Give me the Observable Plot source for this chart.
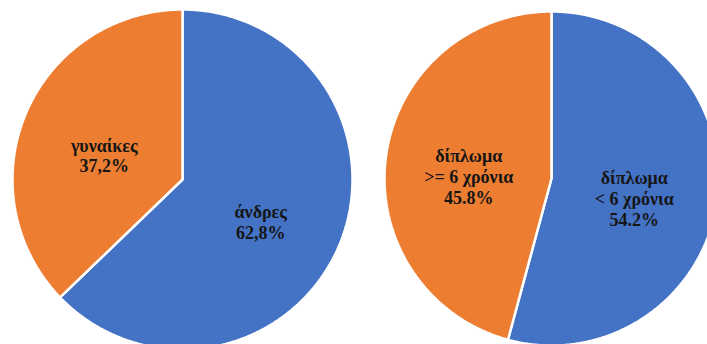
<!DOCTYPE html>
<html>
<head>
<meta charset="utf-8">
<script src="https://cdn.jsdelivr.net/npm/d3@7"></script>
<script src="https://cdn.jsdelivr.net/npm/@observablehq/plot@0.6"></script>
<style>
  html, body { margin: 0; padding: 0; background: #fff; overflow: hidden; }
  #wrap { position: relative; width: 707px; height: 344px; overflow: hidden; }
  #wrap svg { position: absolute; top: 0; max-width: none; overflow: hidden; }
  #wrap svg text { font-family: "Liberation Serif", "Times New Roman", serif; }
</style>
</head>
<body>
<div id="wrap"></div>
<script>
// ---- data ----
const genderCategories = ["άνδρες", "γυναίκες"];
const genderValues = [62.8, 37.2];
const genderPctLabels = ["62,8%", "37,2%"];

const licenseCategories = ["δίπλωμα\n< 6 χρόνια", "δίπλωμα\n>= 6 χρόνια"];
const licenseValues = [54.2, 45.8];
const licensePctLabels = ["54.2%", "45.8%"];

const sliceColors = ["#4472C4", "#ED7D31"];

// ---- helpers ----
function pieSlices(categories, values, pctLabels) {
  const total = d3.sum(values);
  let acc = 0;
  const polys = [];
  const labels = [];
  categories.forEach((cat, i) => {
    const a0 = acc / total * 2 * Math.PI;
    acc += values[i];
    const a1 = acc / total * 2 * Math.PI;
    const n = Math.max(2, Math.ceil((a1 - a0) / (Math.PI / 360)));
    polys.push({cat, x: 0, y: 0});
    for (let k = 0; k <= n; k++) {
      const a = a0 + (a1 - a0) * k / n;
      polys.push({cat, x: Math.sin(a), y: Math.cos(a)});
    }
    polys.push({cat, x: 0, y: 0});
    const m = (a0 + a1) / 2;
    labels.push({cat, x: 0.5 * Math.sin(m), y: 0.5 * Math.cos(m), text: cat + "\n" + pctLabels[i]});
  });
  return {polys, labels};
}

function pie(categories, values, pctLabels, opts) {
  const {polys, labels} = pieSlices(categories, values, pctLabels);
  return Plot.plot({
    width: opts.width,
    height: 344,
    style: {fontFamily: "Liberation Serif, Times New Roman, serif"},
    x: {domain: [-1, 1], range: opts.xRange, axis: null},
    y: {domain: [-1, 1], range: opts.yRange, axis: null},
    color: {domain: categories, range: sliceColors},
    marks: [
      Plot.line(polys, {x: "x", y: "y", z: "cat", fill: "cat", stroke: "white", strokeWidth: 2.5, curve: "linear", strokeLinejoin: "miter"}),
      Plot.text(labels, {x: "x", y: "y", text: "text", fill: "#161616", fontSize: 18, fontWeight: "bold",
        fontFamily: "Liberation Serif, Times New Roman, serif", lineHeight: 1.15, dy: 9})
    ]
  });
}

const wrap = document.getElementById("wrap");
const left = pie(genderCategories, genderValues, genderPctLabels, {width: 364, xRange: [12, 352], yRange: [349, 9]});
left.style.left = "0px";
wrap.appendChild(left);
const right = pie(licenseCategories, licenseValues, licensePctLabels, {width: 343, xRange: [20, 354], yRange: [345, 11]});
right.style.left = "364px";
wrap.appendChild(right);
</script>
</body>
</html>
